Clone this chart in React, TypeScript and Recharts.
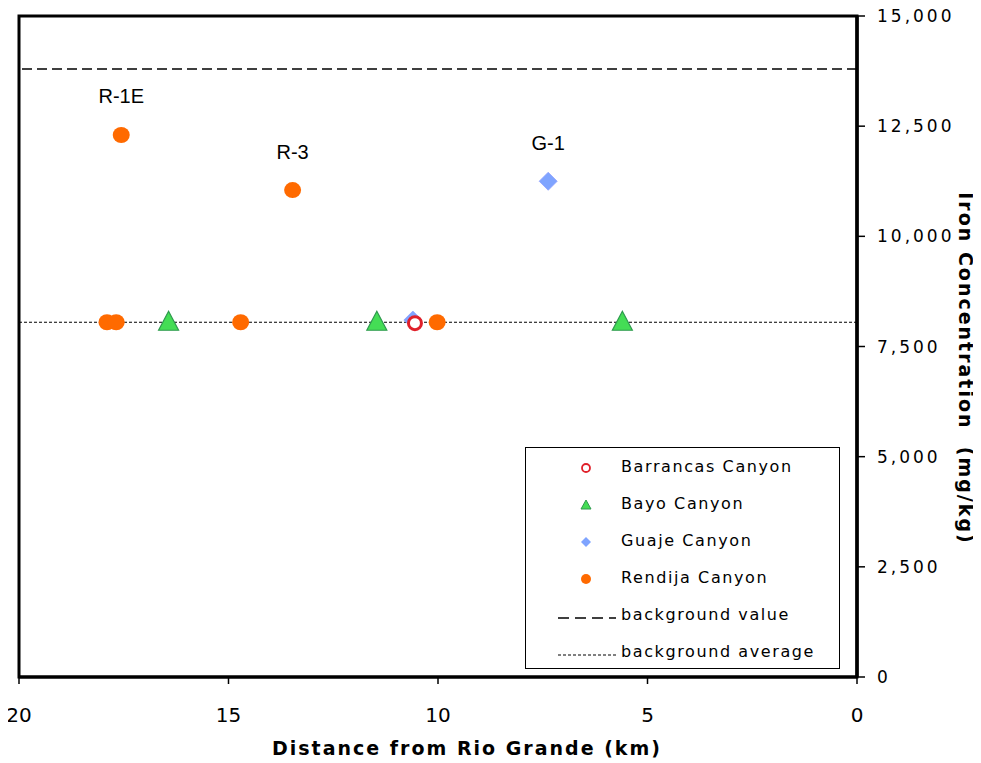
import {
  Label,
  LabelList,
  ReferenceArea,
  ReferenceLine,
  Scatter,
  ScatterChart,
  XAxis,
  YAxis,
} from 'recharts';

// distance from the Rio Grande (km) and iron concentration (mg/kg) per canyon
const barrancasDist = [10.55];
const barrancasIron = [8030];

const bayoDist = [16.43, 11.46, 5.6];
const bayoIron = [8050, 8050, 8050];

const guajeDist = [10.6, 7.37];
const guajeIron = [8100, 11250];
const guajeLabels = ['', 'G-1'];

const rendijaDist = [17.9, 17.68, 17.56, 14.71, 13.47, 10.02];
const rendijaIron = [8050, 8050, 12300, 8050, 11050, 8050];
const rendijaLabels = ['', '', 'R-1E', '', 'R-3', ''];

const backgroundValue = 13800;
const backgroundAverage = 8050;

const xTicks = [20, 15, 10, 5, 0];
const yTicks = [0, 2500, 5000, 7500, 10000, 12500, 15000];

const legendNames = ['Barrancas Canyon', 'Bayo Canyon', 'Guaje Canyon', 'Rendija Canyon', 'background value', 'background average'];

const toPoints = (dist: number[], iron: number[], labels?: string[]) =>
  dist.map((d, i) => ({ dist: d, iron: iron[i], label: labels ? labels[i] : '' }));

const barrancas = toPoints(barrancasDist, barrancasIron);
const bayo = toPoints(bayoDist, bayoIron);
const guaje = toPoints(guajeDist, guajeIron, guajeLabels);
const rendija = toPoints(rendijaDist, rendijaIron, rendijaLabels);

const FONT = '"DejaVu Sans", Verdana, sans-serif';

const RedRing = (p: any) => <circle cx={p.cx} cy={p.cy} r={6.5} fill='#fff' stroke='#E0202A' strokeWidth={3} />;
const GreenTriangle = (p: any) => (
  <polygon
    points={`${p.cx},${p.cy - 11} ${p.cx + 10},${p.cy + 8} ${p.cx - 10},${p.cy + 8}`}
    fill='#44DD55'
    stroke='#2E9A4E'
    strokeWidth={1.2}
  />
);
const BlueDiamond = (p: any) => (
  <polygon
    points={`${p.cx},${p.cy - 9} ${p.cx + 9},${p.cy} ${p.cx},${p.cy + 9} ${p.cx - 9},${p.cy}`}
    fill='#7FA4FF'
    stroke='#8FA0FF'
    strokeWidth={0.8}
  />
);
const OrangeDot = (p: any) => <ellipse cx={p.cx} cy={p.cy} rx={8.5} ry={8} fill='#FF6A00' />;

const legendMarker = (i: number) => {
  const cx = 60;
  const cy = 10;
  if (i === 0) return <circle cx={cx} cy={cy} r={4} fill='#fff' stroke='#E0202A' strokeWidth={1.8} />;
  if (i === 1) return <polygon points={`${cx},${cy - 5} ${cx + 5},${cy + 4} ${cx - 5},${cy + 4}`} fill='#44DD55' stroke='#2E9A4E' />;
  if (i === 2) return <polygon points={`${cx},${cy - 5} ${cx + 5},${cy} ${cx},${cy + 5} ${cx - 5},${cy}`} fill='#7FA4FF' />;
  if (i === 3) return <circle cx={cx} cy={cy} r={5} fill='#FF6A00' />;
  if (i === 4) return <line x1={32} x2={90} y1={cy + 2} y2={cy + 2} stroke='#000' strokeWidth={1.5} strokeDasharray='11 6' />;
  return <line x1={32} x2={90} y1={cy + 2} y2={cy + 2} stroke='#000' strokeWidth={1} strokeDasharray='3 2' />;
};

const LegendBox = () => (
  <div
    style={{
      position: 'absolute',
      left: 525,
      top: 447,
      width: 315,
      height: 222,
      border: '1.5px solid #000',
      boxSizing: 'border-box',
      background: '#fff',
      paddingTop: 10,
    }}>
    {legendNames.map((name, i) => (
      <div key={name} style={{ position: 'relative', height: 37 }}>
        <svg width={100} height={20} style={{ position: 'absolute', left: 0, top: 0 }}>
          {legendMarker(i)}
        </svg>
        <span
          style={{
            position: 'absolute',
            left: 95,
            top: -1,
            fontFamily: FONT,
            fontSize: 16,
            letterSpacing: 1.6,
            color: '#000',
            whiteSpace: 'nowrap',
          }}>
          {name}
        </span>
      </div>
    ))}
  </div>
);

const pointLabel = { position: 'top' as const, offset: 27, fill: '#000', fontSize: 20, fontFamily: '"Liberation Sans", Arial, sans-serif' };

export default function App() {
  return (
    <div style={{ position: 'relative', width: 981, height: 763, margin: '-8px 0 0 -8px' }}>
      <ScatterChart width={981} height={763} margin={{ top: 16, left: 19, right: 0, bottom: 0 }}>
        <XAxis
          type='number'
          dataKey='dist'
          domain={[0, 20]}
          reversed
          ticks={xTicks}
          allowDataOverflow
          height={86}
          axisLine={{ stroke: '#000', strokeWidth: 3 }}
          tickLine={{ stroke: '#000', strokeWidth: 1.5 }}
          tickSize={7}
          tickMargin={24}
          tick={{ fill: '#000', fontSize: 20, fontFamily: FONT }}>
          <Label
            value='Distance from Rio Grande (km)'
            position='insideBottom'
            offset={8}
            dx={29}
            style={{ fill: '#000', fontSize: 19, fontWeight: 'bold', fontFamily: FONT, letterSpacing: 2 }}
          />
        </XAxis>
        <YAxis
          type='number'
          dataKey='iron'
          orientation='right'
          domain={[0, 15000]}
          ticks={yTicks}
          width={124}
          axisLine={{ stroke: '#000', strokeWidth: 3.5 }}
          tickLine={{ stroke: '#000', strokeWidth: 1.5 }}
          tickSize={8}
          tickMargin={12}
          tickFormatter={(v: number) => v.toLocaleString('en-US')}
          tick={{ fill: '#000', fontSize: 17, fontFamily: FONT, letterSpacing: 3 }}>
          <Label
            content={(props: any) => {
              const vb = props.viewBox;
              const x = vb.x + vb.width - 15;
              const y = vb.y + vb.height / 2 + 22;
              return (
                <text
                  x={x}
                  y={y}
                  transform={`rotate(90, ${x}, ${y})`}
                  textAnchor='middle'
                  dominantBaseline='central'
                  fill='#000'
                  fontSize={19}
                  fontWeight='bold'
                  fontFamily={FONT}
                  letterSpacing={2}
                  style={{ whiteSpace: 'pre' }}>
                  {'Iron Concentration  (mg/kg)'}
                </text>
              );
            }}
          />
        </YAxis>
        <ReferenceArea x1={20} x2={0} y1={0} y2={15000} fill='none' stroke='#000' strokeWidth={3} ifOverflow='visible' />
        <Scatter name='Guaje Canyon' data={guaje} shape={BlueDiamond} isAnimationActive={false}>
          <LabelList dataKey='label' {...pointLabel} />
        </Scatter>
        <Scatter name='Rendija Canyon' data={rendija} shape={OrangeDot} isAnimationActive={false}>
          <LabelList dataKey='label' {...pointLabel} />
        </Scatter>
        <Scatter name='Bayo Canyon' data={bayo} shape={GreenTriangle} isAnimationActive={false} />
        <Scatter name='Barrancas Canyon' data={barrancas} shape={RedRing} isAnimationActive={false} />
        <ReferenceLine y={backgroundValue} stroke='#000' strokeWidth={1.5} strokeDasharray='10 5' />
        <ReferenceLine y={backgroundAverage} stroke='#000' strokeWidth={1.2} strokeDasharray='3 2' />
      </ScatterChart>
      <LegendBox />
    </div>
  );
}
